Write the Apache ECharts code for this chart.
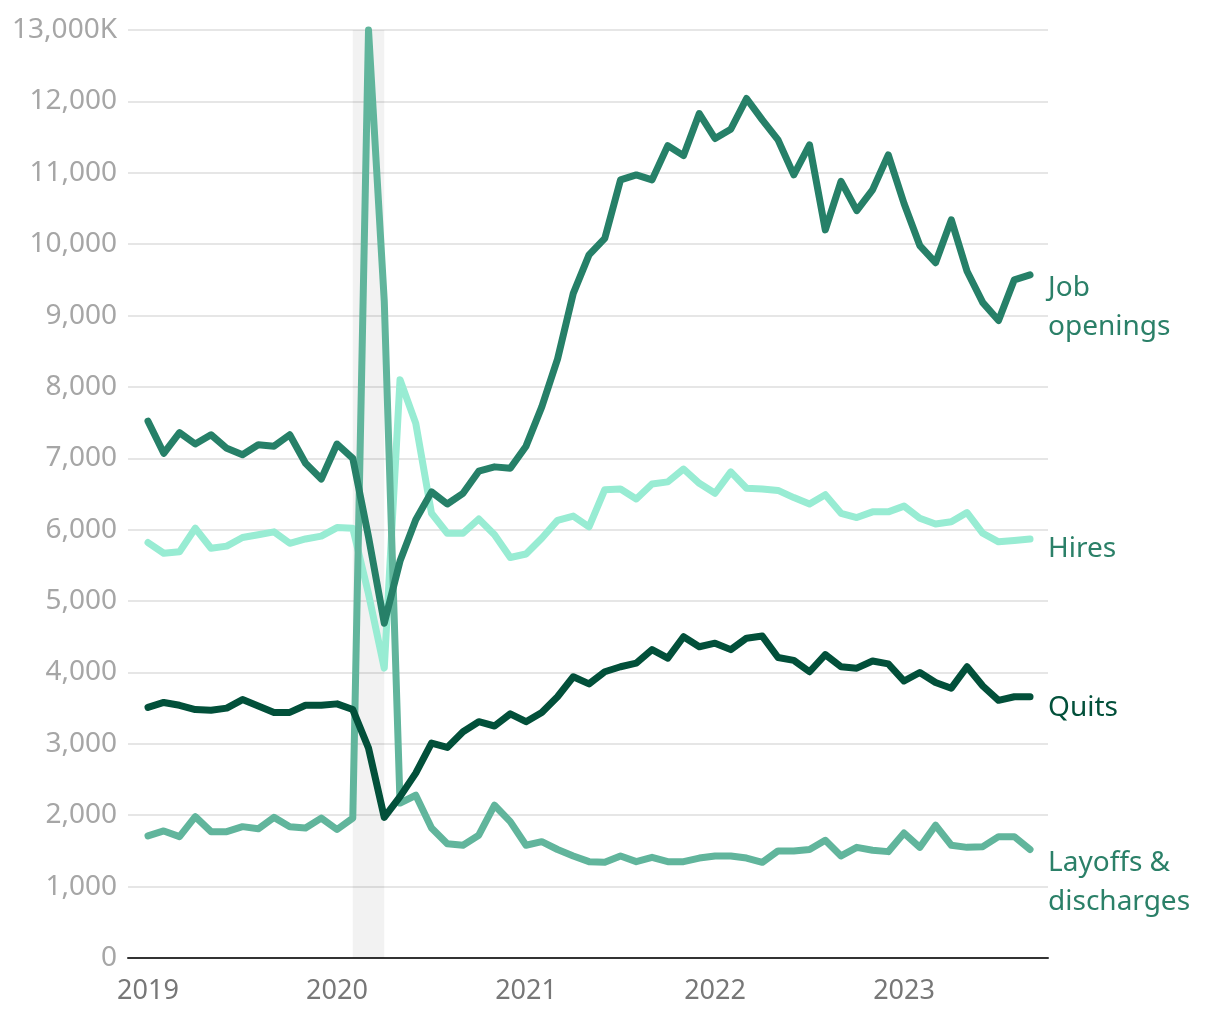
<!DOCTYPE html>
<html>
<head>
<meta charset="utf-8">
<script src="https://cdn.jsdelivr.net/npm/echarts@6/dist/echarts.min.js"></script>
<style>
html,body{margin:0;padding:0;background:#fff;}
#chart{width:1220px;height:1020px;}
</style>
</head>
<body>
<div id="chart"></div>
<script>
// Monthly, Jan 2019 (index 0) to Sep 2023 (index 56), thousands
const yearTicks = [0, 12, 24, 36, 48];
const yearLabels = ['2019', '2020', '2021', '2022', '2023'];
const recession = [13, 15]; // Feb 2020 – Apr 2020

const jobOpenings = [7520,7070,7360,7200,7330,7140,7050,7190,7170,7330,6930,6710,
  7200,7000,5900,4690,5560,6140,6530,6360,6510,6820,6880,6860,
  7170,7720,8390,9310,9850,10080,10900,10970,10900,11380,11240,11830,
  11480,11610,12040,11740,11460,10970,11390,10200,10880,10470,10760,11250,
  10570,9980,9740,10340,9620,9180,8930,9500,9570];
const hires = [5820,5670,5690,6020,5740,5770,5890,5930,5970,5810,5870,5910,
  6030,6020,5100,4060,8100,7490,6230,5950,5950,6150,5930,5610,
  5660,5880,6130,6190,6040,6560,6570,6430,6640,6670,6850,6650,
  6510,6810,6580,6570,6550,6450,6360,6490,6230,6170,6250,6250,
  6330,6160,6080,6110,6240,5950,5830,5850,5870];
const quits = [3510,3580,3540,3480,3470,3500,3620,3530,3440,3440,3540,3540,
  3560,3480,2940,1970,2260,2590,3010,2950,3170,3310,3250,3420,
  3310,3440,3660,3940,3840,4010,4080,4130,4320,4200,4500,4360,
  4410,4320,4480,4510,4210,4170,4010,4250,4080,4060,4160,4120,
  3880,4000,3860,3780,4080,3810,3610,3660,3660];
const layoffs = [1710,1780,1700,1980,1770,1770,1840,1810,1970,1840,1820,1960,
  1800,1960,13000,9200,2170,2280,1820,1600,1580,1720,2140,1910,
  1580,1630,1520,1430,1350,1340,1430,1350,1410,1350,1350,1400,
  1430,1430,1400,1340,1500,1500,1520,1650,1430,1550,1510,1490,
  1750,1550,1860,1580,1550,1560,1700,1700,1520];

const FONT = '"Noto Sans", "Open Sans", sans-serif';
const toPts = arr => arr.map((v, i) => [i, v]);

function lineSeries(name, data, color, labelText, labelColor, dy, z) {
  return {
    name, type: 'line', data: toPts(data), z,
    symbol: 'none', smooth: false, clip: false,
    lineStyle: { color, width: 7, cap: 'round', join: 'round' },
    emphasis: { disabled: true },
    endLabel: {
      show: true, formatter: labelText, color: labelColor,
      fontFamily: FONT, fontSize: 28, lineHeight: 39,
      distance: 18, offset: [0, dy], align: 'left', verticalAlign: 'middle'
    }
  };
}

const chart = echarts.init(document.getElementById('chart'), null, { renderer: 'canvas' });
chart.setOption({
  animation: false,
  backgroundColor: '#fff',
  grid: { left: 128, right: 172, top: 30, bottom: 62 },
  xAxis: {
    type: 'value', min: -1.27, max: 57.14,
    splitLine: { show: false },
    axisTick: { show: false },
    axisLine: { show: true, onZero: false, lineStyle: { color: '#333', width: 2 } },
    axisLabel: {
      customValues: yearTicks,
      formatter: v => yearLabels[yearTicks.indexOf(v)] || '',
      color: '#777', fontFamily: FONT, fontSize: 27, margin: 20
    }
  },
  yAxis: {
    type: 'value', min: 0, max: 13000, interval: 1000,
    axisLine: { show: false }, axisTick: { show: false },
    splitLine: { show: true, lineStyle: { color: '#e6e6e6', width: 2 } },
    axisLabel: {
      color: '#a6a6a6', fontFamily: FONT, fontSize: 28, margin: 11,
      formatter: v => v === 13000 ? '13,000K' : v.toLocaleString('en-US')
    }
  },
  series: [
    {
      type: 'line', data: [], z: -1, silent: true,
      markArea: {
        silent: true,
        itemStyle: { color: 'rgba(0,0,0,0.05)' },
        data: [[{ xAxis: recession[0] }, { xAxis: recession[1] }]]
      }
    },
    lineSeries('Hires', hires, '#98ecd3', 'Hires', '#2b8068', 10, 2),
    lineSeries('Layoffs & discharges', layoffs, '#61b59c', 'Layoffs &\ndischarges', '#2b8068', 33, 3),
    lineSeries('Job openings', jobOpenings, '#268068', 'Job\nopenings', '#2b8068', 33, 4),
    lineSeries('Quits', quits, '#02503a', 'Quits', '#02503a', 11, 5)
  ]
});
</script>
</body>
</html>
